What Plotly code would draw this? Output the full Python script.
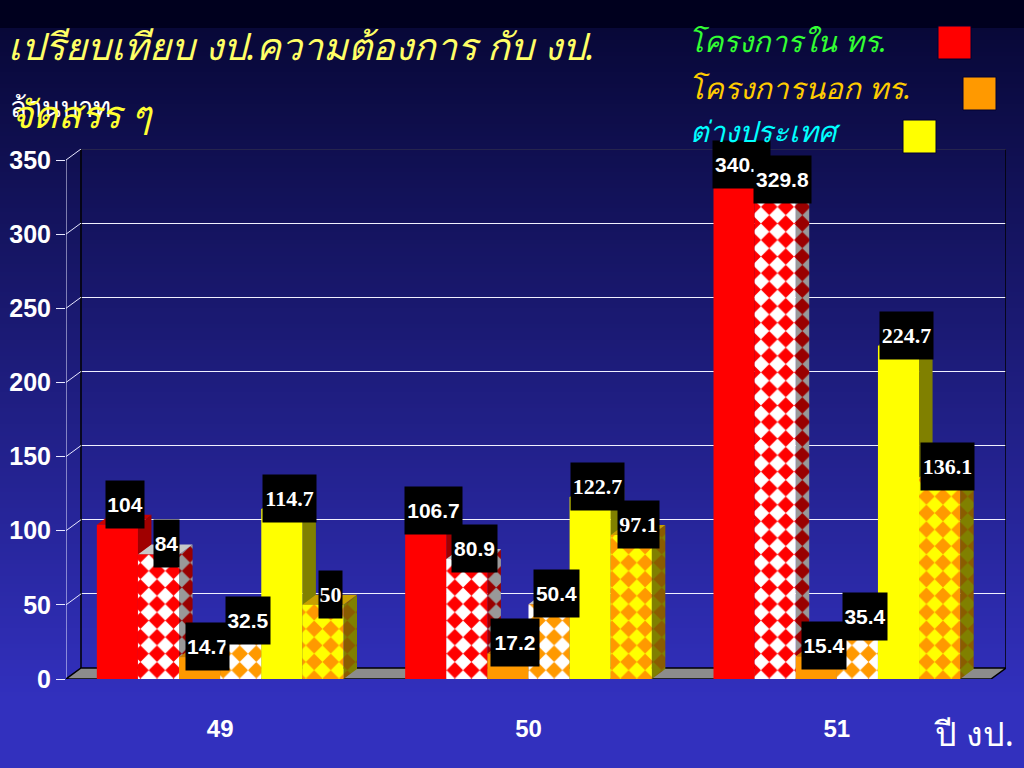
import plotly.graph_objects as go

YEARS = ["49", "50", "51"]
REQ_IN = [104, 106.7, 340.1]
ALLOC_IN = [84, 80.9, 329.8]
REQ_OUT = [14.7, 17.2, 15.4]
ALLOC_OUT = [32.5, 50.4, 35.4]
REQ_ABROAD = [114.7, 122.7, 224.7]
ALLOC_ABROAD = [50, 97.1, 136.1]
Y_TICKS = [0, 50, 100, 150, 200, 250, 300, 350]

W, H = 1024, 768
FRONT_L, FRONT_R, FRONT_B, FRONT_T = 66, 991, 679, 160
WALL_DX, WALL_DY = 15, 11
BAR_DX, BAR_DY = 13.5, 10
YMAX = 350
BAR_W = 0.8 / 6
x_per_px = 3 / (FRONT_R - FRONT_L)
y_per_px = YMAX / (FRONT_B - FRONT_T)


def px(x):
    return x / W


def py(y):
    return 1 - y / H


GRAD = [(0, (0, 0, 30)), (27, (0, 0, 30)), (28, (8, 8, 56)), (700, (50, 48, 190)), (768, (50, 48, 190))]


def grad_color(y):
    for (y0, c0), (y1, c1) in zip(GRAD, GRAD[1:]):
        if y0 <= y <= y1:
            t = (y - y0) / (y1 - y0)
            return "rgb(%d,%d,%d)" % tuple(round(c0[i] + (c1[i] - c0[i]) * t) for i in range(3))
    return "rgb(50,48,190)"


shapes = []
for top in range(0, H, 4):
    shapes.append(dict(type="rect", xref="paper", yref="paper", layer="below", x0=0, x1=1,
                       y0=py(top + 4), y1=py(top), line_width=0, fillcolor=grad_color(top)))
for x0, y0, col in [(938, 26, "#ff0000"), (963, 77, "#ff9900"), (903, 120, "#ffff00")]:
    shapes.append(dict(type="rect", xref="paper", yref="paper", x0=px(x0), x1=px(x0 + 33),
                       y0=py(y0 + 33), y1=py(y0), fillcolor=col, line=dict(color="#000033", width=1)))

fig = go.Figure()

# back wall: carries gridlines
fig.add_trace(go.Scatter(x=[0], y=[0], xaxis="x", yaxis="y", mode="none", showlegend=False, hoverinfo="skip"))

ddx, ddy = WALL_DX * x_per_px, WALL_DY * y_per_px
x_l, x_r = -0.5, 2.5
# wall frame
fig.add_trace(go.Scatter(x=[x_l + ddx, x_l + ddx], y=[ddy, YMAX + ddy], xaxis="x2", yaxis="y2", mode="lines",
                         line=dict(color="#000000", width=1.5), showlegend=False, hoverinfo="skip", cliponaxis=False))
fig.add_trace(go.Scatter(x=[x_r + ddx, x_r + ddx], y=[ddy, YMAX + ddy], xaxis="x2", yaxis="y2", mode="lines",
                         line=dict(color="#000000", width=1.5), showlegend=False, hoverinfo="skip", cliponaxis=False))
fig.add_trace(go.Scatter(x=[x_l + ddx, x_r + ddx], y=[YMAX + ddy, YMAX + ddy], xaxis="x2", yaxis="y2", mode="lines",
                         line=dict(color="#3a3a4a", width=1), showlegend=False, hoverinfo="skip", cliponaxis=False))
# front vertical axis line
fig.add_trace(go.Scatter(x=[x_l, x_l], y=[0, YMAX], xaxis="x2", yaxis="y2", mode="lines",
                         line=dict(color="#e8e8ff", width=1), showlegend=False, hoverinfo="skip", cliponaxis=False))
# floor
fig.add_trace(go.Scatter(x=[x_l, x_l + ddx, x_r + ddx, x_r, x_l], y=[0, ddy, ddy, 0, 0], xaxis="x2", yaxis="y2",
                         mode="lines", fill="toself", fillcolor="#8c8c8c", line=dict(color="#000000", width=1.5),
                         showlegend=False, hoverinfo="skip", cliponaxis=False))
# left wall diagonals
for t in Y_TICKS[1:]:
    fig.add_trace(go.Scatter(x=[x_l, x_l + ddx], y=[t, t + ddy], xaxis="x2", yaxis="y2", mode="lines",
                             line=dict(color="#e8e8ff", width=1), showlegend=False, hoverinfo="skip",
                             cliponaxis=False))

SERIES = [
    (REQ_IN, dict(front="#ff0000", side="#a00000", top="#c80000")),
    (ALLOC_IN, dict(front="#ffffff", fg="#ff0000", side="#999999", sidefg="#990000", top="#c8c8c8")),
    (REQ_OUT, dict(front="#ff9900", side="#995c00", top="#cc7a00")),
    (ALLOC_OUT, dict(front="#ffffff", fg="#ff9900", side="#999999", sidefg="#995c00", top="#c8c8c8")),
    (REQ_ABROAD, dict(front="#ffff00", side="#808000", top="#c0c000")),
    (ALLOC_ABROAD, dict(front="#ff9900", fg="#ffff00", side="#8a5c00", sidefg="#808000", top="#c8a000")),
]
PAT_SIZE = 11.7
cx = [0, 1, 2]
bdx, bdy = BAR_DX * x_per_px, BAR_DY * y_per_px

for i, (vals, st) in enumerate(SERIES):
    off = -0.4 + i * BAR_W
    sx, sy, tx, ty = [], [], [], []
    for c, v in zip(cx, vals):
        l = c + off
        r = l + BAR_W
        sx += [r, r + bdx, r + bdx, r, r, None]
        sy += [0, bdy, v + bdy, v, 0, None]
        tx += [l, l + bdx, r + bdx, r, l, None]
        ty += [v, v + bdy, v + bdy, v, v, None]
    if "sidefg" in st:
        side_pat = dict(shape="x", fgcolor=st["sidefg"], bgcolor=st["side"], size=PAT_SIZE, solidity=0.5,
                        fillmode="replace")
    else:
        side_pat = None
    fig.add_trace(go.Scatter(x=sx, y=sy, xaxis="x2", yaxis="y2", mode="lines", line_width=0, fill="toself",
                             fillcolor=st["side"], fillpattern=side_pat, showlegend=False, hoverinfo="skip",
                             zorder=2 * i + 1, cliponaxis=False))
    fig.add_trace(go.Scatter(x=tx, y=ty, xaxis="x2", yaxis="y2", mode="lines", line_width=0, fill="toself",
                             fillcolor=st["top"], showlegend=False, hoverinfo="skip",
                             zorder=2 * i + 1, cliponaxis=False))
    marker = dict(color=st["front"], line_width=0)
    if "fg" in st:
        marker["pattern"] = dict(shape="x", fgcolor=st["fg"], bgcolor=st["front"], size=PAT_SIZE, solidity=0.5,
                                 fillmode="replace")
    fig.add_trace(go.Bar(x=cx, y=vals, xaxis="x2", yaxis="y2", width=BAR_W, offset=off, marker=marker,
                         showlegend=False, zorder=2 * i + 2))

# value labels
LABEL_TEXTS = [
    ["104", "106.7", "340.1"], ["84", "80.9", "329.8"], ["14.7", "17.2", "15.4"],
    ["32.5", "50.4", "35.4"], ["114.7", "122.7", "224.7"], ["50", "97.1", "136.1"],
]
LABEL_BOX_WIDTHS = [[38, 57, 57], [25, 45, 57], [43, 48, 44], [44, 45, 44], [53, 53, 53], [23, 41, 53]]
annotations = []
for c in range(3):
    for i, (vals, st) in enumerate(SERIES):
        serif = i >= 4
        first = (i == 0 and c == 0)
        annotations.append(dict(
            x=cx[c] - 0.4 + (i + 0.5) * BAR_W, y=vals[c], xref="x2", yref="y2", showarrow=False,
            text=LABEL_TEXTS[i][c], xshift=7.5, yshift=20 if first else 10.5,
            width=LABEL_BOX_WIDTHS[i][c], height=47, bgcolor="#000000", borderpad=0, align="center", valign="middle",
            font=dict(family="Liberation Serif" if serif else "Liberation Sans", size=22 if serif else 21,
                      color="#ffffff", weight="bold")))


def label(text, x, y, size, color, italic=True, family="Noto Sans"):
    annotations.append(dict(text=text, x=px(x), y=py(y), xref="paper", yref="paper", showarrow=False,
                            xanchor="left", yanchor="middle",
                            font=dict(family=family, size=size, color=color, style="italic" if italic else "normal")))


label("ล้านบาท", 8, 107, 27.5, "#ffffff", italic=False)
label("เปรียบเทียบ งป.ความต้องการ กับ งป.", 6, 45, 37.5, "#ffff66")
label("จัดสรร ๆ", 9, 113, 38, "#ffff33")
label("โครงการใน ทร.", 686, 41, 29, "#33ff33")
label("โครงการนอก ทร.", 686, 87, 29.5, "#ffcc00")
label("ต่างประเทศ", 688, 131, 29, "#00ffff")
label("ปี งป.", 932, 733, 34, "#ffffff", italic=False)

fig.update_layout(
    width=W, height=H, margin=dict(l=0, r=0, t=0, b=0, pad=0, autoexpand=False), autosize=False,
    paper_bgcolor="#1a1a6e", plot_bgcolor="rgba(0,0,0,0)", showlegend=False, shapes=shapes, annotations=annotations,
    barmode="overlay", hovermode=False,
    # back wall
    xaxis=dict(domain=[px(FRONT_L + WALL_DX), px(FRONT_R + WALL_DX)], range=[0, 1], showgrid=False, zeroline=False,
               showticklabels=False, ticks="", showline=False, fixedrange=True, anchor="y"),
    yaxis=dict(domain=[py(FRONT_B - WALL_DY), py(FRONT_T - WALL_DY)], range=[0, YMAX], tickvals=Y_TICKS, gridcolor="#f0f0ff",
               gridwidth=1, zeroline=False, showticklabels=False, ticks="", showline=False, anchor="x"),
    # front plane, extended so that the depth of the box lies inside the axis range
    xaxis2=dict(domain=[px(FRONT_L), px(FRONT_R + WALL_DX)], range=[x_l, x_r + ddx], tickvals=cx, ticktext=YEARS, showgrid=False,
                zeroline=False, showline=False, ticks="outside", ticklen=28, tickcolor="rgba(0,0,0,0)", anchor="y2",
                tickfont=dict(family="Liberation Sans", size=24, color="#ffffff", weight="bold")),
    yaxis2=dict(domain=[py(FRONT_B), py(FRONT_T - WALL_DY)], range=[0, YMAX + ddy], tickvals=Y_TICKS, showgrid=False, zeroline=False,
                showline=False, ticks="outside", ticklen=9, tickcolor="#e8e8ff", anchor="x2",
                tickfont=dict(family="Liberation Sans", size=25, color="#ffffff", weight="bold")),
)

POST = """
document.body.style.margin='0';document.body.style.overflow='hidden';
document.querySelectorAll('pattern').forEach(function(p){
  var s=parseFloat(p.getAttribute('width'));var path=p.querySelector('path');if(!path)return;
  var fg=path.getAttribute('stroke')||path.style.stroke;
  path.setAttribute('d','M'+s/2+',0L'+s+','+s/2+'L'+s/2+','+s+'L0,'+s/2+'Z');
  path.setAttribute('fill',fg);path.setAttribute('stroke','none');path.setAttribute('stroke-width','0');
  path.style.fill=fg;path.style.stroke='none';
});
"""
fig.write_html("out.html", post_script=POST, config={"displayModeBar": False})
